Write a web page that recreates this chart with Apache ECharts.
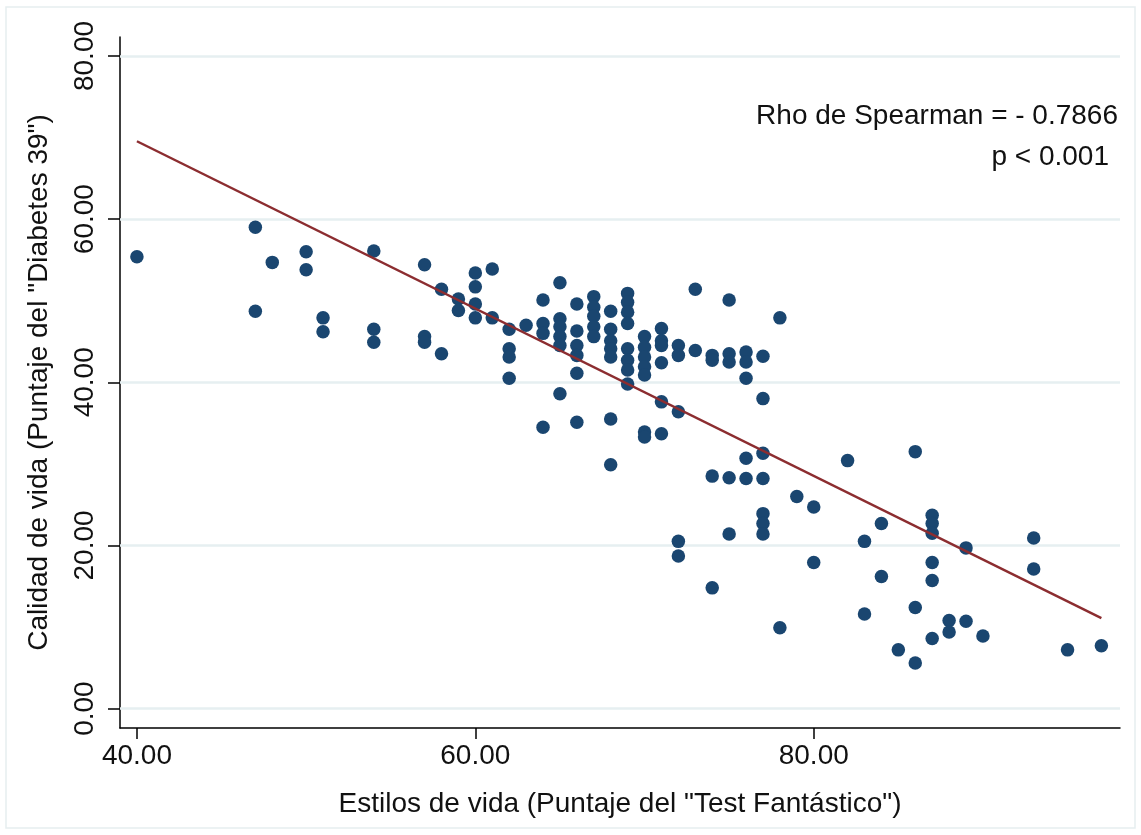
<!DOCTYPE html>
<html>
<head>
<meta charset="utf-8">
<script src="https://cdn.jsdelivr.net/npm/echarts@6/dist/echarts.min.js"></script>
<style>
html,body{margin:0;padding:0;background:#fff;}
#chart{width:1141px;height:835px;}
</style>
</head>
<body>
<div id="chart"></div>
<script>
// Estilos de vida (x) score for each patient
const xVals = [
  40,
  47, 47,
  48,
  50, 50,
  51, 51,
  54, 54, 54,
  57, 57, 57,
  58, 58,
  59, 59,
  60, 60, 60, 60,
  61, 61,
  62, 62, 62, 62,
  63,
  64, 64, 64, 64,
  65, 65, 65, 65, 65, 65,
  66, 66, 66, 66, 66, 66,
  67, 67, 67, 67, 67,
  68, 68, 68, 68, 68, 68, 68,
  69, 69, 69, 69, 69, 69, 69, 69,
  70, 70, 70, 70, 70, 70, 70,
  71, 71, 71, 71, 71, 71,
  72, 72, 72, 72, 72,
  73, 73,
  74, 74, 74, 74,
  75, 75, 75, 75, 75,
  76, 76, 76, 76, 76,
  77, 77, 77, 77, 77, 77, 77,
  78, 78,
  79,
  80, 80,
  82,
  83, 83,
  84, 84,
  85,
  86, 86, 86,
  87, 87, 87, 87, 87, 87,
  88, 88,
  89, 89,
  90,
  93, 93,
  95,
  97
];
// Calidad de vida (y) score for each patient
const yVals = [
  55.4,
  59.0, 48.7,
  54.7,
  56.0, 53.8,
  47.9, 46.2,
  56.1, 46.5, 44.9,
  54.4, 45.6, 44.9,
  51.4, 43.5,
  50.2, 48.8,
  53.4, 51.7, 49.6, 47.9,
  53.9, 47.9,
  46.5, 44.1, 43.1, 40.5,
  47.0,
  50.1, 47.2, 46.0, 34.5,
  52.2, 47.8, 46.8, 45.6, 44.5, 38.6,
  49.6, 46.3, 44.5, 43.3, 41.1, 35.1,
  50.5, 49.2, 48.1, 46.8, 45.6,
  48.7, 46.5, 45.1, 44.1, 43.1, 35.5, 29.9,
  50.9, 49.8, 48.6, 47.2, 44.1, 42.7, 41.5, 39.8,
  45.6, 44.3, 43.1, 41.9, 40.9, 33.9, 33.3,
  46.6, 45.1, 44.5, 42.4, 37.6, 33.7,
  44.5, 43.3, 36.4, 20.5, 18.7,
  51.4, 43.9,
  43.3, 42.7, 28.5, 14.8,
  50.1, 43.5, 42.5, 28.3, 21.4,
  43.7, 42.5, 40.5, 30.7, 28.2,
  43.2, 38.0, 31.3, 28.2, 23.9, 22.7, 21.4,
  47.9, 9.9,
  26.0,
  24.7, 17.9,
  30.4,
  20.5, 11.6,
  22.7, 16.2,
  7.2,
  31.5, 12.4, 5.6,
  23.7, 22.7, 21.5, 17.9, 15.7, 8.6,
  10.8, 9.4,
  19.7, 10.7,
  8.9,
  20.9, 17.1,
  7.2,
  7.7
];
// fitted line end points
const fitX = [40, 97];
const fitY = [69.55, 11.1];
// tick values
const xTicks = [40, 60, 80];
const yTicks = [0, 20, 40, 60, 80];
const xTitle = 'Estilos de vida (Puntaje del "Test Fantástico")';
const yTitle = 'Calidad de vida (Puntaje del "Diabetes 39")';
const annot1 = 'Rho de Spearman = - 0.7866';
const annot2 = 'p < 0.001';

const FONT = '"Liberation Sans", Arial, sans-serif';
const chart = echarts.init(document.getElementById('chart'), null, {renderer: 'canvas'});
const pts = xVals.map((x, i) => [x, yVals[i]]);
const fit = fitX.map((x, i) => [x, fitY[i]]);

chart.setOption({
  animation: false,
  backgroundColor: '#ffffff',
  grid: {left: 120, right: 21, top: 37, bottom: 107, containLabel: false},
  xAxis: {
    type: 'value', min: 39, max: 98.1,
    name: xTitle, nameLocation: 'middle', nameGap: 62,
    nameTextStyle: {fontFamily: FONT, fontSize: 28, color: '#111'},
    axisLine: {onZero: false, lineStyle: {color: '#000', width: 1.5}},
    axisTick: {show: true, length: 11, customValues: xTicks, lineStyle: {color: '#000', width: 1.5}},
    axisLabel: {customValues: xTicks, formatter: v => v.toFixed(2), fontFamily: FONT, fontSize: 28, color: '#111', margin: 14},
    splitLine: {show: false}
  },
  yAxis: {
    type: 'value', min: -2.38, max: 82.33,
    name: yTitle, nameLocation: 'middle', nameGap: 67, nameRotate: 90,
    nameTextStyle: {fontFamily: FONT, fontSize: 28, color: '#111'},
    axisLine: {onZero: false, lineStyle: {color: '#000', width: 1.5}},
    axisTick: {show: true, length: 12, customValues: yTicks, lineStyle: {color: '#000', width: 1.5}},
    axisLabel: {customValues: yTicks, rotate: 90, formatter: v => v.toFixed(2), fontFamily: FONT, fontSize: 28, color: '#111', margin: 21},
    splitLine: {show: false}
  },
  graphic: [
    {type: 'rect', shape: {x: 6, y: 7, width: 1129, height: 821}, style: {fill: null, stroke: '#e6eef0', lineWidth: 1.5}, silent: true, z: -10},
    {type: 'text', right: 23, top: 102, style: {text: annot1, fontFamily: FONT, fontSize: 28, fill: '#111', textAlign: 'right'}},
    {type: 'text', right: 32, top: 143, style: {text: annot2, fontFamily: FONT, fontSize: 28, fill: '#111', textAlign: 'right'}}
  ],
  series: [
    {
      type: 'scatter', data: pts, symbol: 'circle', symbolSize: 13.5,
      itemStyle: {color: '#1a4670', opacity: 1}, z: 3,
      markLine: {
        silent: true, symbol: 'none', z: 1, animation: false,
        label: {show: false},
        lineStyle: {color: '#e6eff1', width: 2.5, type: 'solid'},
        data: yTicks.map(v => ({yAxis: v}))
      }
    },
    {
      type: 'line', data: fit, symbol: 'none', z: 4,
      lineStyle: {color: '#8c2d30', width: 2.5}
    }
  ]
});
</script>
</body>
</html>
